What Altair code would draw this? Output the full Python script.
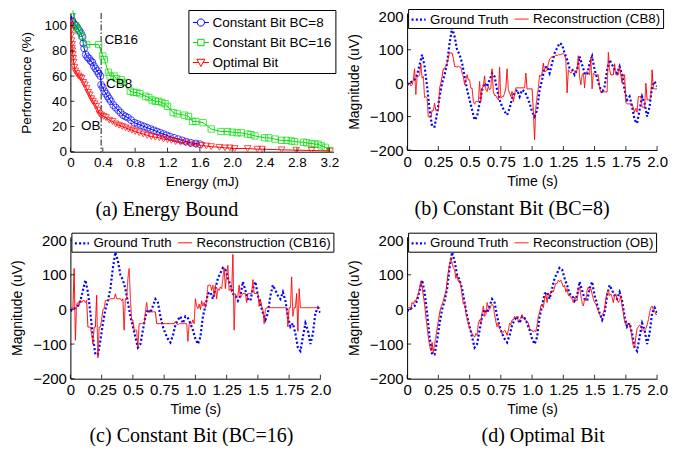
import altair as alt
import pandas as pd

SANS = "Liberation Sans"
SERIF = "Liberation Serif"

# ---------------- (a) Energy Bound ----------------
cb8_energy = [0.01, 0.02, 0.03, 0.05, 0.07, 0.09, 0.11, 0.13, 0.15, 0.16, 0.17, 0.19, 0.21, 0.23,
              0.25, 0.27, 0.29, 0.31, 0.33, 0.35, 0.37, 0.38, 0.40, 0.42, 0.44, 0.46, 0.48, 0.50,
              0.53, 0.56, 0.59, 0.62, 0.65, 0.68, 0.71, 0.75, 0.79, 0.83, 0.87, 0.91, 0.95, 0.99,
              1.03, 1.07, 1.11, 1.15, 1.19, 1.23, 1.28, 1.33, 1.38, 1.43, 1.49, 1.55, 1.60]
cb8_perf = [108, 104, 103, 101, 100, 98, 96, 94, 91, 86, 82, 77, 75, 74,
            72, 71, 68, 66, 64, 62, 60, 53, 51, 48, 46, 44, 42, 40,
            37, 35, 33, 31, 29, 28, 27, 25, 23, 22, 21, 20, 19, 18,
            17, 16, 15, 14, 13, 12, 11, 10, 9, 8, 7, 6.5, 6]
cb16_energy = [0.03, 0.06, 0.08, 0.10, 0.14, 0.20, 0.35, 0.40, 0.42, 0.47, 0.49, 0.54, 0.57, 0.63,
               0.65, 0.74, 0.78, 0.82, 0.86, 0.93, 0.97, 1.01, 1.05, 1.09, 1.13, 1.17, 1.20, 1.27,
               1.32, 1.41, 1.46, 1.51, 1.55, 1.64, 1.74, 1.86, 1.94, 2.00, 2.06, 2.11, 2.19, 2.23,
               2.28, 2.40, 2.45, 2.53, 2.61, 2.67, 2.73, 2.77, 2.88, 2.92, 2.98, 3.02, 3.06, 3.10,
               3.15, 3.21]
cb16_perf = [112, 100, 98, 96, 92, 85, 85, 76, 73, 63, 60, 60, 58, 57,
             55, 48, 47, 47, 46, 44, 43, 41, 40, 40, 39, 38, 36, 31,
             30, 29, 28, 24, 24, 23, 18, 16, 16, 15.5, 15, 15, 14, 13.5,
             12.5, 11, 11, 10, 9, 9, 8.5, 8, 7.5, 7, 6.5, 6, 6, 4.6,
             3.5, 1]
ob_energy = [0.00, 0.005, 0.01, 0.01, 0.015, 0.02, 0.02, 0.025, 0.03, 0.035, 0.04, 0.05, 0.06, 0.08,
             0.10, 0.12, 0.14, 0.16, 0.18, 0.20, 0.22, 0.24, 0.26, 0.28, 0.30, 0.32, 0.34, 0.36,
             0.38, 0.41, 0.44, 0.48, 0.52, 0.56, 0.60, 0.64, 0.68, 0.72, 0.76, 0.80, 0.85, 0.90,
             0.95, 1.00, 1.05, 1.10, 1.15, 1.20, 1.25, 1.30, 1.36, 1.42, 1.48, 1.55, 1.62, 1.68,
             1.74, 1.84, 1.91, 1.97, 2.03, 2.19, 2.31, 2.37, 2.61, 2.79, 2.98, 3.21]
ob_perf = [103, 100, 96, 92, 88, 85, 82, 80, 77, 74, 71, 67, 64, 62,
           60, 59, 58, 55, 53, 50, 47, 45, 42, 40, 38, 36, 33, 30,
           29, 28, 27, 25, 24, 22, 21, 20, 19, 18, 17, 16, 15, 14,
           13, 12, 11.5, 11, 10, 9.5, 9, 8, 7.5, 7, 6, 5.5, 5, 4.5,
           4, 3.5, 3, 3, 2.5, 2.5, 2, 2, 1.5, 1.2, 1, 0.5]
series_a = ["Constant Bit BC=8", "Constant Bit BC=16", "Optimal Bit"]
energy_ticks = [0, 0.4, 0.8, 1.2, 1.6, 2.0, 2.4, 2.8, 3.2]
perf_ticks = [0, 20, 40, 60, 80, 100]
ann_text = ["CB16", "CB8", "OB"]
ann_energy = [0.42, 0.44, 0.13]
ann_perf = [88.6, 53.7, 20.4]
bound_energy = [0.38]

# ---------------- (b)-(d) signals ----------------
gt_time = [i / 50 for i in range(101)]
gt_uv = [-5, 0, 5, 10, 25, 55, 85, 50, -10, -80,
         -130, -130, -90, -40, 0, 25, 60, 120, 165, 140,
         100, 85, 60, 20, -20, -50, -80, -110, -100, -60,
         -20, 0, -10, 10, 30, 20, -20, -50, -70, -85,
         -95, -75, -45, -30, -20, -40, -20, -25, -40, -60,
         -85, -100, -80, -20, 10, 45, 50, 30, 60, 90,
         105, 120, 115, 90, 70, 45, 40, 25, 40, 80,
         55, 30, 25, 60, 80, 40, 15, -10, -30, -10,
         40, 70, 55, 40, 30, 50, 25, -20, -50, -40,
         -70, -110, -120, -80, -40, -60, -100, -70, -10, 5,
         -10]
rec_time = [i / 100 for i in range(201)]
cb8_uv = [-5, -5, 0, -8, -5, 10, 43, -34, 20, 20,
          25, 58, 15, 20, -43, -40, -45, -101, -101, -101,
          -82, -82, -60, -82, -82, -82, -14, 0, 20, 43,
          45, 50, 60, 75, 92, 90, 90, 75, 50, 50,
          48, 50, 48, 48, 30, 20, -5, 10, 25, 10,
          10, -15, -15, -55, -63, -55, -55, -55, 5, -55,
          -15, -10, 22, -20, -25, -10, -20, -15, 43, -25,
          -37, -37, -45, -50, 48, -45, -40, -40, -30, -15,
          43, -20, -30, -40, -25, -55, -35, -14, -14, -14,
          -14, -14, -14, -14, -14, 30, -17, -17, -17, -17,
          -17, -82, -169, -72, -40, -15, 24, 20, 30, 60,
          35, 35, 40, 58, 72, 75, 80, 75, 80, 85,
          82, 85, 85, 85, 88, 88, 85, 70, -29, 40,
          35, 30, 35, 40, 35, 30, 40, 82, 20, -5,
          25, 30, -14, 30, 35, 30, 25, 77, -17, 30,
          25, 25, 25, 25, -14, -26, -26, -26, -26, -26,
          -26, 92, 40, 25, 25, 25, 58, 25, 25, 25,
          50, 25, 0, 25, 25, -58, -62, -62, -62, -62,
          -62, -75, -87, -75, -87, -40, -40, -40, -72, -72,
          -72, 0, -50, -50, -50, -40, 40, -17, -17, -17,
          -17]
cb16_uv = [2, 5, 2, 118, -89, 15, 20, 12, 26, 20,
           26, 26, 20, 26, -51, -51, -51, -70, -100, -51,
           -51, 41, -140, -51, -51, -30, 0, 2, 26, 26,
           26, 26, 31, 31, 31, 31, 45, 31, 31, 31,
           31, 25, 31, -60, 31, 31, 89, 118, 31, -31,
           -31, -60, -60, -60, -108, -41, -41, -41, -41, -41,
           -7, 20, -7, -7, -7, -7, -7, -7, -7, -41,
           -41, -41, -41, -41, -41, -41, -41, -41, -41, -41,
           -41, -41, -41, -41, -35, -41, -45, -41, -41, -41,
           -41, -41, -41, -41, -92, -41, -41, -41, -30, -41,
           31, 10, 2, 15, 0, 25, 10, 20, 5, 25,
           70, 70, 70, 55, 70, 40, 70, 30, 60, 55,
           65, 60, 90, 120, 60, 100, 127, 55, 60, 50,
           159, -60, 45, 35, 40, 70, 35, 40, 46, 46,
           46, 20, 46, 46, 46, 46, 86, 46, 46, 46,
           46, 9, 30, 9, 0, -41, 0, 5, 5, 5,
           5, 5, 5, 5, 5, 5, 5, 5, 5, 5,
           5, 5, 5, 5, -50, 5, 5, 94, -20, 5,
           5, 46, -63, 60, 5, 5, 5, 5, 5, 5,
           5, 5, 5, 5, 5, 5, 5, 5, 5, 5,
           5]
ob_uv = [5, 5, 5, 0, 20, 15, 25, 25, 35, 45,
         60, 80, 65, 40, 15, -20, -50, -80, -105, -120,
         -95, -125, -100, -80, -55, -35, -10, 5, 15, 25,
         40, 50, 80, 110, 130, 150, 135, 120, 115, 90,
         100, 80, 85, 70, 40, 15, 20, -10, -25, -40,
         -55, -60, -70, -75, -80, -70, -75, -40, -30, -40,
         -10, 10, -20, -15, 20, 5, 0, 10, 15, 10,
         -15, -35, -50, -40, -55, -60, -70, -65, -60, -65,
         -75, -60, -40, -45, -30, -30, -20, -25, -20, -35,
         -30, -25, -15, -25, -30, -30, -35, -40, -55, -60,
         -60, -65, -60, -65, -45, -20, -10, 10, 15, 5,
         30, 45, 20, 45, 40, 50, 55, 50, 65, 75,
         75, 85, 80, 85, 75, 65, 70, 50, 60, 40,
         40, 35, 30, 20, 35, 30, 25, 60, 65, 40,
         20, 10, 30, 25, 55, 65, 55, 60, 45, 30,
         20, 15, 5, -5, -15, -20, -15, -10, 0, 30,
         50, 55, 40, 45, 35, 20, 40, 45, 30, 20,
         25, 40, 10, -10, -35, -45, -40, -45, -40, -60,
         -85, -105, -110, -80, -55, -50, -45, -50, -60, -60,
         -60, -55, -45, -30, -10, 5, 10, 0, -5, -15,
         -15]
time_ticks = [0, 0.25, 0.5, 0.75, 1.0, 1.25, 1.5, 1.75, 2.0]
uv_ticks = [-200, -100, 0, 100, 200]


# ---------------- helpers ----------------
def make_axis(values, title, lfs, tfs, expr=None, title_pad=5):
    kw = dict(values=values, title=title, ticks=False, grid=False,
              labelPadding=4, titlePadding=title_pad, labelFontSize=lfs, titleFontSize=tfs,
              labelFont=SANS, titleFont=SANS, titleFontWeight="normal",
              labelColor="black", titleColor="black", domainColor="black",
              labelFlush=False, labelOverlap=False)
    if expr is not None:
        kw["labelExpr"] = expr
    return alt.Axis(**kw)


def inner_ticks(xvals, yvals, xs, ys, xax, yax, h):
    xt = alt.Chart(pd.DataFrame({"tx": xvals})).mark_rule(color="black", strokeWidth=0.8).encode(
        x=alt.X("tx:Q", scale=xs, axis=xax), y=alt.value(h), y2=alt.value(h - 4))
    yt = alt.Chart(pd.DataFrame({"ty": yvals})).mark_rule(color="black", strokeWidth=0.8).encode(
        y=alt.Y("ty:Q", scale=ys, axis=yax), x=alt.value(0), x2=alt.value(4))
    return [xt, yt]


def caption(text, dx, offset):
    return alt.TitleParams(text=text, orient="bottom", anchor="middle", font=SERIF, fontSize=20,
                           fontWeight="normal", color="black", dx=dx, offset=offset)


# ---------------- panel (a) ----------------
W_A, H_A = 263, 138.7
rows = []
for name, es, ps in zip(series_a, [cb8_energy, cb16_energy, ob_energy], [cb8_perf, cb16_perf, ob_perf]):
    for i, (e, p) in enumerate(zip(es, ps)):
        rows.append({"energy": e, "perf": p, "series": name, "idx": i})
df_a = pd.DataFrame(rows)

colors_a = ["#0000ff", "#00dd00", "#ff0000"]
xs_a = alt.Scale(domain=[0, 3.25], nice=False, zero=False)
ys_a = alt.Scale(domain=[0, 110], nice=False, zero=False)
cs_a = alt.Scale(domain=series_a, range=colors_a)
ax_xa = make_axis(energy_ticks, "Energy (mJ)", 13.5, 13.5,
                  "datum.value == 0 ? '0' : format(datum.value, '.1f')", 5)
ax_ya = make_axis(perf_ticks, "Performance (%)", 13.5, 13.5, None, 10)


def XA(f):
    return alt.X(f, scale=xs_a, axis=ax_xa)


def YA(f):
    return alt.Y(f, scale=ys_a, axis=ax_ya)


bound = alt.Chart(pd.DataFrame({"e": bound_energy})).mark_rule(
    color="black", strokeWidth=0.9, strokeDash=[6, 2, 1.5, 2]).encode(x=XA("e:Q"))

series_layers = []
for name, col, shp, sz in zip(series_a, colors_a, ["circle", "square", "triangle-down"], [48, 40, 45]):
    base = alt.Chart(df_a).transform_filter(alt.datum.series == name)
    series_layers.append(base.mark_line(strokeWidth=1, color=col).encode(
        x=XA("energy:Q"), y=YA("perf:Q"), order=alt.Order("idx:Q")))
    series_layers.append(base.mark_point(shape=shp, filled=False, size=sz, strokeWidth=1,
                                         color=col, clip=True).encode(x=XA("energy:Q"), y=YA("perf:Q")))

ann = alt.Chart(pd.DataFrame({"t": ann_text, "e": ann_energy, "p": ann_perf})).mark_text(
    align="left", baseline="middle", font=SANS, fontSize=13.5, color="black").encode(
    x=XA("e:Q"), y=YA("p:Q"), text="t:N")

legend_paths = [
    "M-1,0H-0.45M0.45,0H1M0.45,0A0.45,0.45,0,1,1,-0.45,0A0.45,0.45,0,1,1,0.45,0Z",
    "M-1,0H-0.4M0.4,0H1M-0.4,-0.4H0.4V0.4H-0.4Z",
    "M-1,0H-0.28M0.28,0H1M-0.5,-0.4H0.5L0,0.5Z",
]
leg_a = alt.Legend(title=None, orient="none", legendX=118, legendY=-3, symbolSize=256,
                   symbolOpacity=1, symbolStrokeWidth=1, labelFont=SANS, labelFontSize=13.5,
                   labelColor="black", labelOffset=3, strokeColor="black", fillColor="white",
                   padding=4, rowPadding=5)
legend_layer = alt.Chart(pd.DataFrame({"series": series_a})).mark_point(opacity=0, filled=False).encode(
    x=alt.value(0), y=alt.value(0),
    color=alt.Color("series:N", scale=cs_a, legend=leg_a),
    shape=alt.Shape("series:N", scale=alt.Scale(domain=series_a, range=legend_paths), legend=leg_a))

panel_a = alt.layer(bound, *series_layers, ann, legend_layer,
                    *inner_ticks(energy_ticks, perf_ticks, xs_a, ys_a, ax_xa, ax_ya, H_A)).properties(
    width=W_A, height=H_A, title=caption("(a) Energy Bound", -35, 12))


# ---------------- panels (b)-(d) ----------------
def signal_panel(rec_uv, rec_name, cap, dx, w, h, cap_off):
    df = pd.DataFrame({
        "t": gt_time + rec_time,
        "v": gt_uv + rec_uv,
        "series": ["Ground Truth"] * len(gt_time) + [rec_name] * len(rec_time),
    })
    dom = ["Ground Truth", rec_name]
    xs = alt.Scale(domain=[0, 2.0], nice=False, zero=False)
    ys = alt.Scale(domain=[-200, 210], nice=False, zero=False)
    xax = make_axis(time_ticks, "Time (s)", 15, 14,
                    "datum.value == 0 ? '0' : (round(datum.value * 100) % 50 == 0 ? format(datum.value, '.1f') : format(datum.value, '.2f'))",
                    5)
    yax = make_axis(uv_ticks, "Magnitude (uV)", 15, 14, None, 8)
    leg = alt.Legend(title=None, orient="none", legendX=1, legendY=-4, direction="horizontal",
                     columns=2, symbolType="stroke", symbolSize=196, labelFont=SANS,
                     labelFontSize=13.3, labelColor="black", labelOffset=3, columnPadding=3,
                     strokeColor="black", fillColor="white", padding=2)
    lines = alt.Chart(df).mark_line(clip=True).encode(
        x=alt.X("t:Q", scale=xs, axis=xax),
        y=alt.Y("v:Q", scale=ys, axis=yax),
        color=alt.Color("series:N", scale=alt.Scale(domain=dom, range=["#0000ff", "#ff0000"]), legend=leg),
        strokeDash=alt.StrokeDash("series:N", scale=alt.Scale(domain=dom, range=[[2, 2.2], [1, 0]]), legend=leg),
        strokeWidth=alt.StrokeWidth("series:N", scale=alt.Scale(domain=dom, range=[2.2, 1.0]), legend=leg),
    )
    return alt.layer(lines, *inner_ticks(time_ticks, uv_ticks, xs, ys, xax, yax, h)).properties(
        width=w, height=h, title=caption(cap, dx, cap_off))


panel_b = signal_panel(cb8_uv, "Reconstruction (CB8)", "(b) Constant Bit (BC=8)", -20, 250, 137, 11)
panel_c = signal_panel(cb16_uv, "Reconstruction (CB16)", "(c) Constant Bit (BC=16)", -4, 250, 142, 9)
panel_d = signal_panel(ob_uv, "Reconstruction (OB)", "(d) Optimal Bit", 11, 250, 142, 9)

chart = alt.concat(panel_a, panel_b, panel_c, panel_d, columns=2,
                   spacing={"row": 11.7, "column": 7.7}).resolve_scale(
    color="independent", shape="independent", strokeDash="independent", strokeWidth="independent"
).properties(
    padding={"left": 2.4, "top": 0, "right": 0, "bottom": 0}
).configure_view(stroke=None)

chart.save("out.html", embed_options={"renderer": "svg", "actions": False})
